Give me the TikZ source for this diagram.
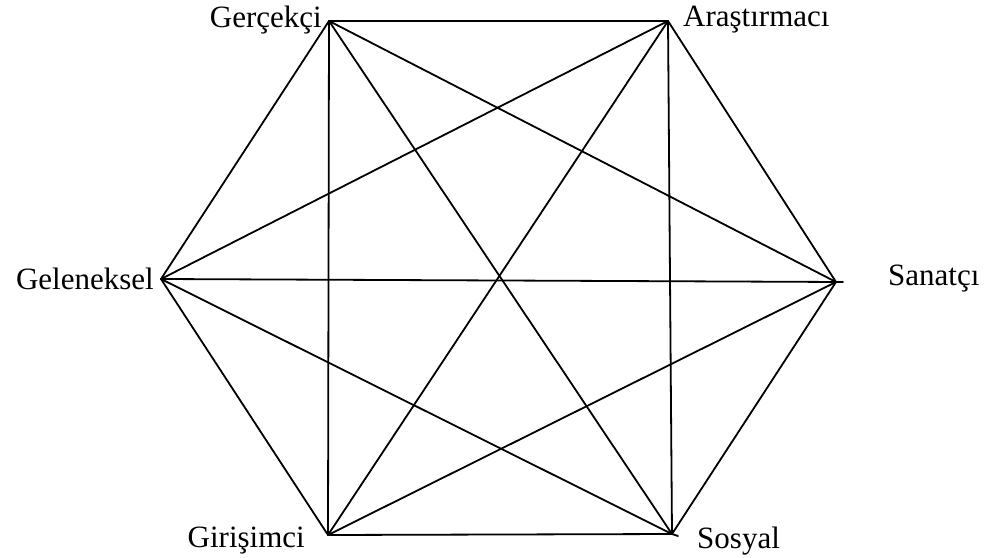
\documentclass[tikz,border=0pt]{standalone}
\usepackage{fontspec}
\setmainfont{Liberation Serif}
\begin{document}
\begin{tikzpicture}[x=1pt,y=-1pt,
  edge/.style={line width=1.8pt, line cap=round, line join=round},
  lbl/.style={font=\fontsize{31}{36}\selectfont, inner sep=0pt}]
\useasboundingbox (0,0) rectangle (988,557);
\coordinate (ger) at (329,21);
\coordinate (ara) at (668,21);
\coordinate (san) at (836,282);
\coordinate (sanx) at (843,282);
\coordinate (sos) at (672,534);
\coordinate (sosx) at (678,536);
\coordinate (gir) at (328,535);
\coordinate (gel) at (161,279);
% hexagon sides
\draw[edge] (ger) -- (ara) -- (san) -- (sos) -- (gir) -- (gel) -- cycle;
\draw[edge] (sos) -- (sosx);
% diagonals
\draw[edge] (ger) -- (san);
\draw[edge] (ger) -- (sos);
\draw[edge] (ger) -- (gir);
\draw[edge] (ara) -- (gel);
\draw[edge] (ara) -- (gir);
\draw[edge] (ara) -- (sos);
\draw[edge] (gel) -- (sanx);
\draw[edge] (gel) -- (sos);
\draw[edge] (gir) -- (san);
% labels
\node[lbl, anchor=east] (tger) at (322,20) {Gerçekçi};
\node[lbl, anchor=west] (tara) at (683,20) {Araştırmacı};
\node[lbl, anchor=west] (tsan) at (888,279) {Sanatçı};
\node[lbl, anchor=east] (tgel) at (154,279) {Geleneksel};
\node[lbl, anchor=east] (tgir) at (305,541) {Girişimci};
\node[lbl, anchor=west] (tsos) at (697,541) {Sosyal};
\end{tikzpicture}
\end{document}
